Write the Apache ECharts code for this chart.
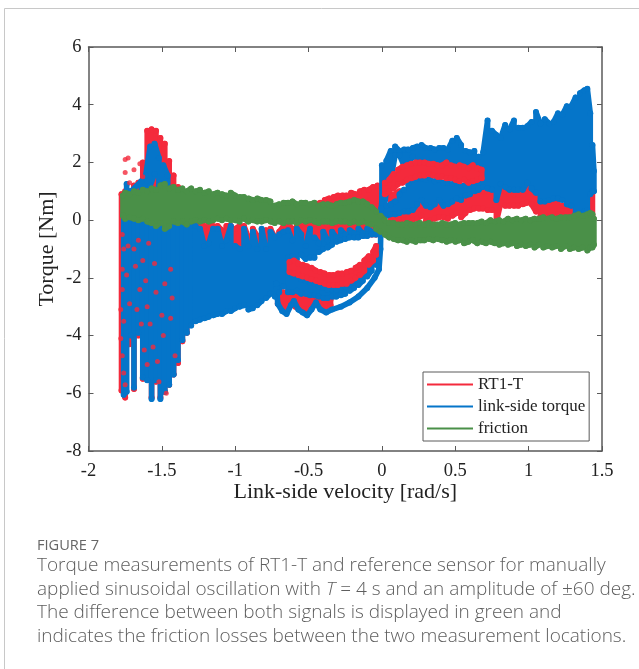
<!DOCTYPE html>
<html><head><meta charset="utf-8">
<style>html,body{margin:0;padding:0;background:#fff}#c{width:639px;height:669px}</style>
<script src="https://cdn.jsdelivr.net/npm/echarts@6/dist/echarts.min.js"></script>
</head><body><div id="c"></div>
<script>
// Each row: link-side velocity, upper torque, lower torque of a band
const redLeft=[[-1.775,.9,-5.9],[-1.75,1,-6.15],[-1.72,1,-4.3],[-1.69,1.2,-5.85],[-1.66,1.3,-4],[-1.63,2,-5.5],[-1.6,3.1,-5.5],[-1.57,3.15,-6.15],[-1.54,3.1,-5.6],[-1.51,2.85,-6.15],[-1.48,2.65,-5.95],[-1.45,2.05,-5.7],[-1.42,1.55,-5.35],[-1.39,1.15,-4.95],[-1.36,1,-4.2],[-1.33,.8,-3.9],[-1.3,.4,-3.6]];
const redComb=[[-1.27,-.15,-1],[-1.24,-.15,-1.1],[-1.21,-.2,-1.2],[-1.18,-.15,-1],[-1.15,-.2,-1],[-1.12,-.2,-1.1],[-1.09,-.35,-1.2],[-1.06,-.2,-1.3],[-1.03,-.2,-1],[-1,-.3,-1.2],[-.97,-.2,-1.3],[-.94,-.2,-1.3],[-.91,-.6,-1.3],[-.88,-.3,-1.2],[-.85,-.55,-1.3],[-.82,-.65,-1.3],[-.79,-.35,-1.3],[-.76,-.3,-1.2],[-.73,-.6,-1.1],[-.7,-.4,-1],[-.67,-.2,-.9],[-.64,-.15,-.8],[-.61,-.3,-.8],[-.58,-.15,-.9],[-.55,-.15,-.8],[-.52,-.1,-.8],[-.49,-.1,-.8],[-.46,-.15,-.7],[-.43,-.15,-.7],[-.4,-.1,-.6],[-.37,-.15,-.6],[-.34,-.15,-.6],[-.31,-.1,-.5],[-.28,-.15,-.5],[-.25,-.2,-.5],[-.22,-.15,-.5],[-.19,-.1,-.5],[-.16,-.15,-.5],[-.13,-.1,-.5],[-.1,-.15,-.5],[-.07,-.1,-.5],[-.04,-.1,-.5]];
const redLowLobes=[[-.71,-2.2,-2.9],[-.68,-2.5,-3.0],[-.65,-2.5,-3.1],[-.62,-2.5,-2.9],[-.59,-2.5,-3],[-.56,-2.55,-3.1],[-.53,-2.6,-3.1],[-.5,-2.6,-3.1],[-.47,-2.6,-2.95],[-.44,-2.7,-2.9],[-.41,-2.7,-3],[-.38,-2.75,-3],[-.35,-2.75,-2.95]];
const redAboveGreen=[[-.48,.5,.3],[-.45,.55,.3],[-.42,.6,.3],[-.39,.7,.3],[-.36,.75,.3],[-.33,.8,.3],[-.3,.85,.3],[-.27,.85,.4],[-.24,.85,.4],[-.21,.95,.4],[-.18,.9,.4],[-.15,1,.4],[-.12,1.05,.4],[-.09,1.05,.4],[-.06,1.15,.3],[-.03,1.2,.3]];
const redLowerRight=[[.06,.9,-.05],[.09,.9,-.05],[.12,1,0],[.15,1,0],[.18,1,.05],[.21,1,0],[.24,1,.05],[.27,1,.15],[.3,1,-.05],[.33,1,0],[.36,1,.05],[.39,1,.1],[.42,1,.1],[.45,1,.05],[.48,1,.15],[.51,1,.25],[.54,1,.1],[.57,1,.25],[.6,1,.35],[.63,1,.4],[.66,1,.4],[.69,1,.4],[.72,1,.35],[.75,1,.35],[.78,1.2,-.05],[.81,1.2,.6],[.84,1,.5],[.87,.9,.5],[.9,.9,.5],[.93,.9,.5],[.96,.9,.55],[.99,1.15,.6],[1.02,1.1,.55],[1.05,.9,.3],[1.08,.8,.1],[1.11,.7,.05],[1.14,.7,.1],[1.17,.7,.15],[1.2,.7,.2],[1.23,.5,.15],[1.26,.5,.1],[1.29,.4,.15],[1.32,.3,.15],[1.35,.3,.15],[1.38,.3,.15],[1.41,.5,.2],[1.435,1,.1]];
const blueLeft=[[-1.76,.3,-6.05],[-1.74,.3,-5.95],[-1.71,.3,-4],[-1.69,.3,-5.8],[-1.66,.3,-3.9],[-1.63,.3,-5.45],[-1.6,.3,-5.55],[-1.57,.3,-6.2],[-1.54,.3,-5.55],[-1.51,.3,-6.2],[-1.48,.3,-5.95],[-1.45,.3,-5.7],[-1.42,.3,-5.35],[-1.39,.3,-4.85],[-1.36,.3,-4.15],[-1.33,.3,-3.9],[-1.3,.3,-3.65]];
const blueBlobs=[[-1.74,1.25,.8],[-1.71,1.0,.8],[-1.64,1.35,.9],[-1.61,1.55,.9],[-1.58,2.55,1.2],[-1.55,2.65,1.6],[-1.52,2.15,1.2],[-1.49,1.9,1.1],[-1.46,1.55,.9],[-1.43,1,.8]];
const blueComb=[[-1.27,-.2,-3.5],[-1.24,-.3,-3.45],[-1.21,-.9,-3.4],[-1.18,-.8,-3.35],[-1.15,-.3,-3.3],[-1.12,-.3,-3.25],[-1.09,-.9,-3.25],[-1.06,-.7,-3.15],[-1.03,-.2,-3.15],[-1,-.9,-3.05],[-.97,-1,-3],[-.94,-.3,-2.95],[-.91,-.9,-3.1],[-.88,-.4,-3.05],[-.85,-1,-2.95],[-.82,-.3,-2.8],[-.79,-1,-2.7],[-.76,-.4,-2.55],[-.73,-.6,-2.65],[-.7,-.5,-2.5],[-.67,-.4,-2.3],[-.64,-.35,-1.3],[-.61,-.7,-1.25],[-.58,-.3,-1.35],[-.55,-.5,-1.2],[-.52,-.9,-1.35],[-.49,-.3,-1.3],[-.46,-.6,-1.3],[-.43,-.8,-1.1],[-.4,-.4,-1],[-.37,-.7,-.95],[-.34,-.4,-.85],[-.31,-.6,-.75],[-.28,-.35,-.7],[-.25,-.5,-.65],[-.22,-.35,-.6],[-.19,-.45,-.6],[-.16,-.3,-.6],[-.13,-.45,-.55],[-.1,-.3,-.55],[-.07,-.4,-.5],[-.04,-.3,-.5]];
const blueUnderArc=[[-.64,-1.8,-2.5],[-.61,-1.9,-2.5],[-.58,-1.95,-2.45],[-.55,-2.05,-2.55],[-.52,-2.1,-2.55],[-.49,-2.15,-2.6],[-.46,-2.2,-2.6],[-.43,-2.3,-2.65],[-.4,-2.35,-2.7],[-.37,-2.4,-2.7],[-.34,-2.4,-2.65],[-.31,-2.4,-2.65],[-.28,-2.35,-2.6],[-.25,-2.3,-2.55],[-.22,-2.25,-2.45],[-.19,-2.15,-2.35],[-.16,-2,-2.25],[-.13,-1.85,-2.1],[-.1,-1.65,-1.95],[-.07,-1.45,-1.75],[-.04,-1.2,-1.55],[-.02,-.9,-1.4]];
const blueUpperBand=[[.0,1.9,-.5],[.03,2.05,1.1],[.06,2.4,1.4],[.09,2.55,2.25],[.12,2.4,2.25],[.15,2.45,1.9],[.18,2.45,1.95],[.21,2.5,2.2],[.24,2.55,1.9],[.27,2.6,1.9],[.3,2.5,1.9],[.33,2.5,1.9],[.36,2.45,1.9],[.39,2.5,1.9],[.42,2.5,1.9],[.45,2.45,1.9],[.48,2.75,1.8],[.51,2.85,1.8],[.54,2.6,1.8],[.57,2.4,1.8],[.6,2.35,1.8],[.63,2.4,1.2]];
const blueLowerLoop=[[.03,.5,.15],[.06,.55,.2],[.09,.65,.2],[.12,.9,.25],[.15,1.05,.3],[.18,1.25,.3],[.21,1.4,.35],[.24,1.45,.55],[.27,1.45,.7],[.3,1.4,.5],[.33,1.45,.45],[.36,1.35,.55],[.39,1.4,.7],[.42,1.3,.5],[.45,1.3,.55],[.48,1.25,.65],[.51,1.3,.75],[.54,1.2,.7],[.57,1.2,.85],[.6,1.2,.9],[.63,1.15,1],[.66,1.3,1.05]];
const blueRight=[[.66,2.2,1.1],[.69,2.35,1.15],[.72,3.45,1.1],[.75,3.1,1.05],[.78,2.95,.7],[.81,2.85,1.25],[.84,3.3,1.15],[.87,3.15,1.05],[.9,3.45,1.05],[.93,3.2,1.05],[.96,3.2,1.05],[.99,3.25,1.3],[1.02,3.4,1.1],[1.05,3.75,.95],[1.08,3.35,.65],[1.11,3.5,.65],[1.14,3.35,.7],[1.17,3.4,.75],[1.2,3.7,.75],[1.23,3.65,.7],[1.26,3.95,.55],[1.29,3.95,.5],[1.32,4.25,.2],[1.35,4.4,.2],[1.38,4.5,.3],[1.4,4.55,.35],[1.42,3.7,.9],[1.435,2.6,1],[1.445,1.7,1]];
const redArcNegative=[[-.63,-1.45,-1.8],[-.6,-1.4,-1.85],[-.57,-1.5,-1.9],[-.54,-1.55,-1.95],[-.51,-1.6,-2],[-.48,-1.65,-2.05],[-.45,-1.75,-2.1],[-.42,-1.8,-2.15],[-.39,-1.85,-2.2],[-.36,-1.9,-2.25],[-.33,-1.9,-2.25],[-.3,-1.85,-2.25],[-.27,-1.85,-2.2],[-.24,-1.8,-2.2],[-.21,-1.75,-2.1],[-.18,-1.65,-2],[-.15,-1.55,-1.9],[-.12,-1.4,-1.75],[-.09,-1.25,-1.55],[-.06,-1.1,-1.4],[-.04,-.9,-1.2]];
const redArcPositive=[[.02,1.3,.9],[.05,1.4,1],[.08,1.6,1.1],[.11,1.75,1.25],[.14,1.85,1.3],[.17,1.9,1.4],[.2,1.95,1.45],[.23,2,1.5],[.26,2,1.55],[.29,2,1.55],[.32,1.95,1.6],[.35,1.95,1.55],[.38,1.9,1.5],[.41,1.9,1.5],[.44,2,1.45],[.47,1.9,1.45],[.5,1.85,1.4],[.53,1.9,1.35],[.56,1.85,1.4],[.59,1.8,1.3],[.62,1.9,1.35],[.65,1.8,1.4],[.68,1.75,1.45]];
const greenBand=[[-1.765,.85,.15],[-1.75,.95,.05],[-1.72,.9,.1],[-1.69,1,.05],[-1.66,.95,0],[-1.63,1.05,.05],[-1.6,1,-.05],[-1.57,1.1,-.1],[-1.54,1.05,-.2],[-1.51,1.2,-.1],[-1.48,1.25,-.3],[-1.45,1.1,-.2],[-1.42,1.15,-.05],[-1.39,1.05,-.1],[-1.36,1.1,-.05],[-1.33,1,-.15],[-1.3,1.1,-.05],[-1.27,1,0],[-1.24,1.05,-.05],[-1.21,.95,0],[-1.18,1,-.05],[-1.15,.9,0],[-1.12,.95,.05],[-1.09,.9,0],[-1.06,.85,.05],[-1.03,.95,0],[-1,.85,0],[-.97,.8,-.05],[-.94,.8,.05],[-.91,.75,-.05],[-.88,.7,0],[-.85,.75,-.05],[-.82,.7,-.05],[-.79,.7,0],[-.76,.65,-.05],[-.73,.5,-.1],[-.7,.55,-.05],[-.67,.6,-.1],[-.64,.6,-.05],[-.61,.65,-.05],[-.58,.55,-.1],[-.55,.6,0],[-.52,.6,-.05],[-.49,.55,0],[-.46,.6,-.05],[-.43,.5,-.1],[-.4,.55,-.05],[-.37,.55,-.05],[-.34,.5,-.1],[-.31,.55,-.05],[-.28,.6,-.05],[-.25,.6,-.05],[-.22,.65,-.1],[-.19,.7,-.05],[-.16,.65,-.1],[-.13,.65,-.05],[-.1,.55,-.1],[-.07,.45,-.15],[-.04,.3,-.3],[-.01,.15,-.4],[.02,0,-.5],[.05,-.1,-.6],[.08,-.1,-.65],[.11,-.15,-.7],[.14,-.15,-.7],[.17,-.1,-.75],[.2,-.15,-.7],[.23,-.15,-.75],[.26,-.1,-.7],[.29,-.15,-.7],[.32,-.1,-.65],[.35,-.15,-.7],[.38,-.15,-.65],[.41,-.1,-.7],[.44,-.15,-.75],[.47,-.15,-.7],[.5,-.1,-.75],[.53,-.15,-.7],[.56,-.1,-.8],[.59,-.1,-.75],[.62,-.1,-.7],[.65,-.1,-.8],[.68,-.05,-.75],[.71,-.1,-.8],[.74,0,-.75],[.77,-.05,-.8],[.8,0,-.85],[.83,-.05,-.8],[.86,.05,-.85],[.89,0,-.8],[.92,.05,-.9],[.95,0,-.85],[.98,.05,-.9],[1.01,0,-.85],[1.04,.05,-.95],[1.07,.05,-.85],[1.1,.1,-.95],[1.13,.05,-.9],[1.16,.1,-.95],[1.19,.05,-.9],[1.22,.1,-1],[1.25,.1,-.9],[1.28,.1,-1],[1.31,.15,-.95],[1.34,.2,-1],[1.37,.15,-.95],[1.4,.2,-1.05],[1.42,.25,-.95],[1.435,.2,-.95],[1.445,.05,-.85]];
const blueLowArc=[[-.72,-2.2],[-.71,-2.9],[-.68,-3.15],[-.65,-3.25],[-.62,-2.95],[-.6,-2.8],[-.57,-3.1],[-.54,-3.2],[-.51,-3.3],[-.48,-3.1],[-.45,-2.85],[-.42,-3.1],[-.38,-3.2],[-.34,-3.1],[-.28,-3],[-.22,-2.85],[-.16,-2.65],[-.1,-2.35],[-.05,-2],[-.02,-1.7],[-.01,-1],[-.005,.4],[.01,1.2]];
const redSpeckles=[[-1.75,2.1],[-1.73,2.15],[-1.75,1.65],[-1.72,1.3],[-1.69,1.75],[-1.65,1.95],[-1.63,1.5],[-1.77,-.5],[-1.76,-1],[-1.77,-1.7],[-1.74,-1.9],[-1.73,-.9],[-1.72,-2.9],[-1.77,-2.4],[-1.78,-3.1],[-1.76,-3.5],[-1.78,-4.1],[-1.77,-4.7],[-1.76,-5.3],[-1.75,-5.7],[-1.69,-1.0],[-1.68,-1.6],[-1.66,-.7],[-1.65,-2.4],[-1.67,-3.1],[-1.64,-3.6],[-1.63,-1.4],[-1.61,-2.1],[-1.59,-.8],[-1.6,-3],[-1.58,-3.6],[-1.62,-4.5],[-1.6,-5],[-1.55,-1.5],[-1.54,-2.5],[-1.56,-4.4],[-1.53,-4.9],[-1.52,-5.6],[-1.47,-6],[-1.5,-3.3],[-1.48,-2.2],[-1.49,-4],[-1.44,-1.7],[-1.43,-2.7],[-1.44,-3.4],[-1.41,-4.7]];
const xTicks=[-2,.5,1.5], yTicks=[-8,2,6];
const seriesNames=['RT1-T','link-side torque','friction'];
const captionHead='FIGURE 7';
const captionLines=['Torque measurements of RT1-T and reference sensor for manually','applied sinusoidal oscillation with {i|T} = 4 s and an amplitude of ±60 deg.','The difference between both signals is displayed in green and','indicates the friction losses between the two measurement locations.'];
const RED='#f42a3c',BLUE='#0575c9',GREEN='#4a9048',AX='#5a5a5a';

const snake=c=>{const o=[];c.forEach((r,i)=>{if(i%2){o.push([r[0],r[2]],[r[0],r[1]])}else{o.push([r[0],r[1]],[r[0],r[2]])}});return o};
const band=(name,color,pts,z)=>({name,type:'line',data:pts,z,showSymbol:true,showAllSymbol:true,symbol:'circle',symbolSize:6,itemStyle:{color},lineStyle:{color,width:5.6,join:'round',cap:'round'},animation:false,silent:true,clip:true});
const series=[
 ...redLeft.map(r=>band(seriesNames[0],RED,snake([r]),2)),
 ...[redComb,redLowLobes,redAboveGreen,redLowerRight].map(c=>band(seriesNames[0],RED,snake(c),2)),
 ...blueLeft.map(r=>band(seriesNames[1],BLUE,snake([r]),3)),
 ...[blueBlobs,blueComb,blueUnderArc,blueUpperBand,blueLowerLoop,blueRight].map(c=>band(seriesNames[1],BLUE,snake(c),3)),
 band(seriesNames[1],BLUE,blueLowArc,3),
 ...[redArcNegative,redArcPositive].map(c=>band(seriesNames[0],RED,snake(c),4)),
 {name:seriesNames[0],type:'scatter',data:redSpeckles,symbolSize:5,itemStyle:{color:RED},z:4,animation:false,silent:true},
 band(seriesNames[2],GREEN,snake(greenBand),5)
];
const serif='"Liberation Serif","Times New Roman",serif', sans='"Open Sans",sans-serif';
const axisCommon={axisLine:{onZero:false,lineStyle:{color:AX,width:1.5}},axisTick:{inside:true,length:5,lineStyle:{color:AX,width:1}},splitLine:{show:false}};
const capText=(t,y)=>({type:'text',x:37,y,style:{text:t,font:'300 19px '+sans,fill:'#5e5e5e',rich:{i:{fontStyle:'italic',font:'italic 300 19px '+sans,fill:'#5e5e5e'}}}});
const chart=echarts.init(document.getElementById('c'),null,{renderer:'canvas'});
chart.setOption({
 animation:false,backgroundColor:'#fff',
 grid:{left:88.5,top:47,right:37,bottom:218,containLabel:false},
 xAxis:[{type:'value',min:xTicks[0],max:xTicks[2],interval:xTicks[1],position:'bottom',...axisCommon,
   axisLabel:{color:'#222',fontFamily:serif,fontSize:18.5,margin:11},
   name:'Link-side velocity [rad/s]',nameLocation:'middle',nameMoveOverlap:false,nameGap:30,nameTextStyle:{color:'#222',fontFamily:serif,fontSize:22}},
  {type:'value',min:xTicks[0],max:xTicks[2],interval:xTicks[1],position:'top',...axisCommon,axisLabel:{show:false}}],
 yAxis:[{type:'value',min:yTicks[0],max:yTicks[2],interval:yTicks[1],position:'left',...axisCommon,
   axisLabel:{color:'#222',fontFamily:serif,fontSize:18.5,margin:7},
   name:'Torque [Nm]',nameLocation:'middle',nameMoveOverlap:false,nameGap:30,nameTextStyle:{color:'#222',fontFamily:serif,fontSize:22}},
  {type:'value',min:yTicks[0],max:yTicks[2],interval:yTicks[1],position:'right',...axisCommon,axisLabel:{show:false}}],
 legend:{data:seriesNames.map(name=>({name,icon:'rect'})),orient:'vertical',left:423,top:372,itemWidth:46,itemHeight:2,itemGap:5,padding:[4,4,4,4],
   borderColor:AX,borderWidth:1,backgroundColor:'#fff',textStyle:{color:'#222',fontFamily:serif,fontSize:17,padding:[0,0,0,0],lineHeight:15},selectedMode:false,z:20},
 graphic:[
  {type:'line',shape:{x1:4.5,y1:8.5,x2:639,y2:8.5},style:{stroke:'#c8c8c8',lineWidth:1}},
  {type:'line',shape:{x1:4.5,y1:8.5,x2:4.5,y2:669},style:{stroke:'#c8c8c8',lineWidth:1}},
  {type:'text',x:37,y:538,style:{text:captionHead,font:'400 14.6px '+sans,fill:'#666'}},
  capText(captionLines[0],556),capText(captionLines[1],580),capText(captionLines[2],603),capText(captionLines[3],627)
 ],
 series
});
</script></body></html>
